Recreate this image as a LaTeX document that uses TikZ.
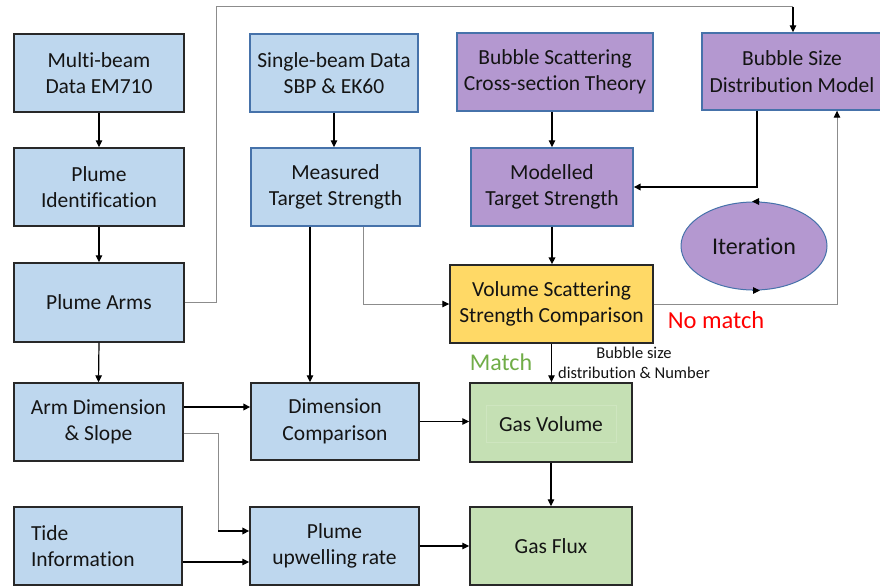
\documentclass[tikz,border=0pt]{standalone}
\usepackage{fontspec}
\setmainfont{Carlito}[Ligatures=NoCommon]
\usetikzlibrary{arrows.meta,shapes.geometric}
\definecolor{blueF}{RGB}{190,215,238}
\definecolor{blueB}{RGB}{70,114,170}
\definecolor{darkB}{RGB}{40,40,40}
\definecolor{purpleF}{RGB}{180,152,208}
\definecolor{yellowF}{RGB}{255,217,102}
\definecolor{greenF}{RGB}{197,224,180}
\definecolor{greenIn}{RGB}{206,229,191}
\definecolor{textC}{RGB}{20,20,20}
\definecolor{grayL}{RGB}{140,140,140}
\definecolor{matchG}{RGB}{112,173,71}
\tikzset{
  box/.style={rectangle, inner sep=0pt, align=center, text=textC,
    font=\fontsize{21.5}{26.5}\selectfont, line width=1.4pt},
  bluebox/.style={box, fill=blueF, draw=darkB},
  blueboxb/.style={box, fill=blueF, draw=blueB},
  purplebox/.style={box, fill=purpleF, draw=blueB},
  yellowbox/.style={box, fill=yellowF, draw=darkB},
  greenbox/.style={box, fill=greenF, draw=darkB},
  tip/.style={-{Triangle[length=7pt,width=6.5pt,color=black]}},
  arr/.style={tip, draw=black, line width=1.2pt},
  thickarr/.style={tip, draw=black, line width=2pt},
  grayline/.style={draw=grayL, line width=1pt},
}
\begin{document}
\begin{tikzpicture}[x=1pt,y=-1pt]
\useasboundingbox[fill=white] (0,0) rectangle (880,586);
% left column
\node[bluebox, minimum width=170, minimum height=78] (mb) at (99,73) {Multi-beam\\Data EM710};
\node[bluebox, minimum width=170, minimum height=78] (pid) at (99,187) {Plume\\Identification};
\node[bluebox, minimum width=170, minimum height=79] (parms) at (99,302.5) {Plume Arms};
\node[bluebox, minimum width=169, minimum height=78] (armd) at (98.5,422) {Arm Dimension\\\& Slope};
\node[bluebox, minimum width=168, minimum height=78, text width=134, align=left] (tide) at (98,546) {Tide\\Information};
% second column
\node[blueboxb, minimum width=168, minimum height=78] (sb) at (334,73) {Single-beam Data\\SBP \& EK60};
\node[blueboxb, minimum width=169, minimum height=78] (mts) at (335.5,187) {Measured\\Target Strength};
\node[bluebox, minimum width=168, minimum height=77] (dc) at (335,421.5) {Dimension\\Comparison};
\node[bluebox, minimum width=169, minimum height=78] (pur) at (334.5,546) {Plume\\upwelling rate};
% third column
\node[purplebox, minimum width=196, minimum height=78] (bsc) at (555,72) {Bubble Scattering\\Cross-section Theory};
\node[purplebox, minimum width=162, minimum height=78] (mod) at (552,187) {Modelled\\Target Strength};
\node[yellowbox, minimum width=203, minimum height=78] (vss) at (551.5,304) {Volume Scattering\\Strength Comparison};
\node[greenbox, minimum width=162, minimum height=79] (gv) at (551,422.5) {};
\node[box, draw=greenIn, line width=0.6pt, minimum width=130, minimum height=37] (gvt) at (551,424) {Gas Volume};
\node[greenbox, minimum width=162, minimum height=78] (gf) at (551,546) {Gas Flux};
% right column
\node[purplebox, minimum width=180, minimum height=77] (bsd) at (792,71.5) {Bubble Size\\Distribution Model};
\node[ellipse, fill=purpleF, draw=blueB, line width=1pt, minimum width=146, minimum height=88, inner sep=0pt,
  text=textC, font=\fontsize{24}{28}\selectfont] (iter) at (754,246) {Iteration};
\draw[tip, draw=blueB, line width=1pt] ([xshift=6]iter.north) -- ([xshift=-2]iter.north);
\draw[tip, draw=blueB, line width=1pt] ([xshift=-2]iter.south) -- ([xshift=6]iter.south);
% labels
\node[text=red, font=\fontsize{24.5}{28}\selectfont, inner sep=0pt] (nomatch) at (716,320) {No match};
\node[text=matchG, font=\fontsize{24}{28}\selectfont, inner sep=0pt] (match) at (501,362) {Match};
\node[text=textC, align=center, font=\fontsize{16.5}{20}\selectfont, inner sep=0pt] (bsn) at (634,363) {Bubble size\\distribution \& Number};
% connectors
\draw[arr] (mb.south) -- (pid.north);
\draw[arr] (pid.south) -- (parms.north);
\draw[arr] (parms.south) -- (armd.north);
\draw[arr] (sb.south) -- (sb.south |- mts.north);
\draw[arr] (bsc.south -| mod.north) -- (mod.north);
\coordinate (topR) at (793,7);
\draw[grayline] (parms.east) -| (216,7) -- (topR);
\draw[arr] (topR) -- (topR |- bsd.north);
\draw[arr] ([xshift=-25.5]mts.south) -- ([xshift=-25]dc.north);
\draw[grayline, tip] ([xshift=27.5]mts.south) |- (vss.west);
\draw[thickarr] ([xshift=-35]bsd.south) |- (mod.east);
\draw[thickarr] (mod.south) -- (mod.south |- vss.north);
\draw[grayline, tip] (vss.east) -| ([xshift=45]bsd.south);
\draw[arr] (vss.south) -- (vss.south |- gv.north);
\draw[arr] (gv.south) -- (gf.north);
\coordinate (ad1) at ([yshift=15]armd.east);
\draw[thickarr] (ad1) -- (ad1 -| dc.west);
\coordinate (ad2) at ([yshift=-11]armd.east);
\coordinate (pu1) at ([yshift=15]pur.west);
\coordinate (bend) at (218,531);
\draw[grayline] (ad2) -| (bend);
\draw[thickarr] (bend) -- (pu1);
\coordinate (t1) at ([yshift=-16]tide.east);
\draw[arr] (t1) -- (t1 -| pur.west);
\draw[arr] (dc.east) -- (dc.east -| gv.west);
\draw[arr] (pur.east) -- (pur.east -| gf.west);
\end{tikzpicture}
\end{document}
